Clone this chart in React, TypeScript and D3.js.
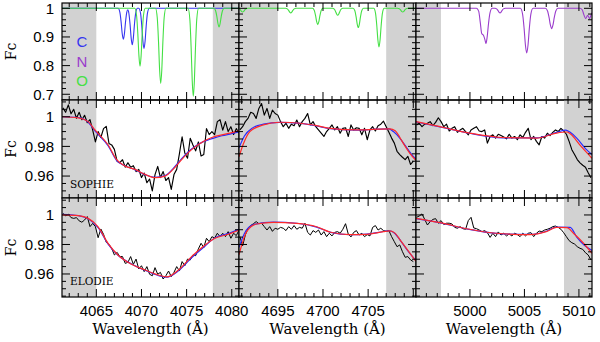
import * as d3 from 'd3'

type Pt = [number, number]

// panel frames (columns = wavelength windows, rows = synthetic / SOPHIE / ELODIE)
const colPx: [number, number][] = [[62, 239], [239, 416], [416, 592]]
const rowPx: [number, number][] = [[3, 100], [100, 198], [198, 297]]

const wlDomains: [number, number][] = [[4061.2, 4080.8], [4690.7, 4710.3], [4995.05, 5011.2]]
const fcDomains: [number, number][] = [[0.68, 1.0185], [0.9452, 1.0113], [0.9444, 1.0115]]

const wlMajor = [[4065, 4070, 4075, 4080], [4695, 4700, 4705, 4710], [5000, 5005, 5010]]
const wlLabels = [[4065, 4070, 4075, 4080], [4695, 4700, 4705], [5000, 5005, 5010]]
const fcMajor = [[0.7, 0.8, 0.9, 1], [0.96, 0.98, 1], [0.96, 0.98, 1]]
const fcLabels = [['0.7', '0.8', '0.9', '1'], ['0.96', '0.98', '1'], ['0.96', '0.98', '1']]
const fcMinorStep = [0.02, 0.005, 0.005]

// shaded (excluded) wavelength ranges
const grayBands: Pt[][] = [
  [[4061.2, 4065], [4077.9, 4080.8]],
  [[4690.7, 4695], [4707, 4710.3]],
  [[4995.05, 4997.34], [5008.63, 5011.2]],
]

// synthetic line spectra, top row
const carbonLine: Pt[] = [
  [4061.2,1],[4067.41,1],[4067.61,0.986],[4067.75,0.951],[4067.87,0.911],[4067.99,0.892],[4068.11,0.911],[4068.23,0.951],[4068.37,0.986],
  [4068.48,0.995],[4068.6,0.9835],[4068.74,0.943],[4068.86,0.896],[4068.98,0.873],[4069.1,0.896],[4069.22,0.943],[4069.36,0.9835],[4069.56,1],
  [4069.7,1],[4069.9,0.982],[4070.04,0.937],[4070.16,0.885],[4070.28,0.86],[4070.4,0.885],[4070.52,0.937],[4070.66,0.982],[4070.86,1],[4080.8,1],
]
const oxygenLeft: Pt[] = [
  [4061.2,1],[4069.26,1],[4069.46,0.974],[4069.6,0.909],[4069.72,0.834],[4069.84,0.798],[4069.96,0.834],[4070.08,0.909],[4070.22,0.974],[4070.42,1],
  [4071.55,1],[4071.75,0.966],[4071.89,0.882],[4072.01,0.785],[4072.13,0.738],[4072.25,0.785],[4072.37,0.882],[4072.51,0.966],[4072.71,1],
  [4075.16,1],[4075.36,0.96],[4075.5,0.862],[4075.62,0.748],[4075.74,0.693],[4075.86,0.748],[4075.98,0.862],[4076.12,0.96],[4076.32,1],
  [4078.01,1],[4078.21,0.9915],[4078.35,0.971],[4078.47,0.947],[4078.59,0.935],[4078.71,0.947],[4078.83,0.971],[4078.97,0.9915],[4079.17,1],[4080.8,1],
]
const oxygenMid: Pt[] = [
  [4690.52,1],[4690.72,0.9983],[4690.86,0.9942],[4690.98,0.9893],[4691.1,0.987],[4691.22,0.9893],[4691.34,0.9942],[4691.48,0.9983],[4691.68,1],
  [4695.85,1],[4696.05,0.9979],[4696.19,0.9928],[4696.31,0.9869],[4696.43,0.984],[4696.55,0.9869],[4696.67,0.9928],[4696.81,0.9979],[4697.01,1],
  [4698.84,1],[4699.04,0.9926],[4699.18,0.9743],[4699.3,0.9533],[4699.42,0.943],[4699.54,0.9533],[4699.66,0.9743],[4699.8,0.9926],[4700.0,1],
  [4701.05,1],[4701.25,0.9969],[4701.39,0.9892],[4701.51,0.9803],[4701.63,0.976],[4701.75,0.9803],[4701.87,0.9892],[4702.01,0.9969],[4702.21,1],
  [4703.33,1],[4703.53,0.9913],[4703.67,0.9698],[4703.79,0.9451],[4703.91,0.933],[4704.03,0.9451],[4704.15,0.9698],[4704.29,0.9913],[4704.49,1],
  [4705.62,1],[4705.82,0.9824],[4705.96,0.9392],[4706.08,0.8893],[4706.2,0.865],[4706.32,0.8893],[4706.44,0.9392],[4706.58,0.9824],[4706.78,1],
  [4708.25,1],[4708.45,0.9983],[4708.59,0.9942],[4708.71,0.9893],[4708.83,0.987],[4708.95,0.9893],[4709.07,0.9942],[4709.21,0.9983],[4709.41,1],[4710.3,1],
]
const nitrogenRight: Pt[] = [
  [4995.05,1],[5000.6,1],[5000.8,0.99],[5000.95,0.95],[5001.08,0.912],[5001.25,0.905],[5001.38,0.89],[5001.47,0.877],[5001.58,0.9],[5001.7,0.945],[5001.84,0.984],[5002.04,1],
  [5002.3,1],[5002.45,0.998],[5002.56,0.993],[5002.66,0.987],[5002.76,0.984],[5002.86,0.987],[5002.96,0.993],[5003.07,0.998],[5003.25,1],
  [5004.63,1],[5004.83,0.98],[5004.97,0.93],[5005.09,0.872],[5005.21,0.844],[5005.33,0.872],[5005.45,0.93],[5005.59,0.98],[5005.79,1],
  [5006.92,1],[5007.12,0.9908],[5007.26,0.968],[5007.38,0.942],[5007.5,0.929],[5007.62,0.942],[5007.74,0.968],[5007.88,0.9908],[5008.08,1],
  [5010.1,1],[5010.3,0.995],[5010.45,0.978],[5010.62,0.964],[5010.8,0.976],[5010.98,0.964],[5011.1,0.975],[5011.2,0.985],
]

// observed spectra: regular wavelength grid per window
const gridStart = [4061.3, 4690.8, 4995.1]
const gridStep = [0.3, 0.3, 0.25]

const sophieFlux = [
  [1.006,1.003,1.008,1.002,1.005,0.999,1.003,0.998,1.001,0.996,0.998,0.991,0.983,0.990,0.986,0.992,0.9935,0.982,0.981,0.978,0.970,0.969,0.971,0.966,0.969,0.966,0.967,0.963,0.9645,0.959,0.962,0.9555,0.958,0.950,0.961,0.9665,0.959,0.963,0.957,0.959,0.951,0.961,0.9645,0.975,0.9865,0.9755,0.972,0.9855,0.981,0.977,0.983,0.9735,0.9745,0.992,0.988,0.990,0.988,0.9967,0.998,0.991,0.9967,0.990,0.9933,0.988,0.992,0.989],
  [0.9911,0.9933,0.9967,0.9989,1.003,1.0022,0.9989,1.0056,1.0089,1.0011,1.0056,0.9989,1.0045,1.0022,1.0011,0.9967,0.9933,0.9956,0.9922,0.995,0.994,0.9978,0.9933,0.9967,0.9989,1.0022,0.9945,0.9967,0.9933,0.9911,0.9889,0.9867,0.99,0.9922,0.9945,0.9911,0.9933,0.9889,0.9922,0.9926,0.9867,0.9945,0.9911,0.9926,0.9922,0.9878,0.9922,0.9845,0.9911,0.9933,0.9904,0.994,0.995,0.997,0.9933,0.9895,0.9856,0.9822,0.9767,0.9745,0.9727,0.9711,0.9733,0.9678,0.970],
  [0.9945,0.9956,0.9933,0.995,0.9956,0.9967,0.994,0.9962,0.9993,0.9967,0.9933,0.995,0.9904,0.9922,0.9933,0.9895,0.9911,0.9922,0.99,0.9878,0.9911,0.9922,0.9933,0.9904,0.99,0.9911,0.9822,0.9867,0.9878,0.9856,0.9882,0.9873,0.9864,0.9851,0.9882,0.9856,0.9867,0.9845,0.9878,0.986,0.9895,0.9922,0.9845,0.9867,0.9834,0.9811,0.9867,0.9856,0.9889,0.9873,0.9895,0.9911,0.99,0.9922,0.9904,0.9882,0.9834,0.9778,0.9745,0.9711,0.9689,0.9673,0.966,0.9622,0.9589],
]
const elodieFlux = [
  [1.0011,0.9995,1.0005,0.9982,0.9977,0.9982,0.996,0.9951,0.9966,0.9989,0.9921,0.9943,0.9921,0.9846,0.9905,0.9869,0.9815,0.9801,0.9774,0.9729,0.9747,0.9718,0.9718,0.9672,0.9679,0.9718,0.9665,0.9701,0.9634,0.9656,0.9616,0.965,0.9598,0.9588,0.9643,0.9598,0.9611,0.9566,0.9588,0.962,0.9582,0.9611,0.965,0.962,0.9684,0.9656,0.9701,0.9695,0.9729,0.9724,0.977,0.9808,0.9779,0.9842,0.9819,0.9853,0.9842,0.9876,0.9853,0.9876,0.9853,0.9887,0.9842,0.9876,0.986,0.9898],
  [0.9853,0.979,0.9864,0.991,0.9928,0.9941,0.9955,0.9941,0.9944,0.9921,0.9898,0.9921,0.9889,0.991,0.9903,0.9916,0.991,0.9894,0.9921,0.9903,0.9928,0.9903,0.9916,0.991,0.9944,0.9882,0.9864,0.9894,0.9882,0.9898,0.9864,0.9887,0.9853,0.9876,0.9858,0.9882,0.9887,0.9876,0.9903,0.9941,0.987,0.9851,0.9882,0.9894,0.9864,0.9876,0.9853,0.9867,0.9858,0.9916,0.9928,0.9898,0.991,0.9894,0.9889,0.9894,0.9853,0.9819,0.9785,0.9797,0.9751,0.9713,0.9718,0.9695,0.9684],
  [0.9984,0.9993,1.0007,0.997,0.9932,0.9955,0.997,0.9975,0.9944,0.9962,0.9935,0.9944,0.9944,0.9939,0.9916,0.991,0.9921,0.9907,0.9903,0.9962,0.9984,0.9912,0.9907,0.9898,0.9887,0.9894,0.988,0.9848,0.9876,0.9853,0.9885,0.9864,0.9876,0.9858,0.9871,0.9858,0.9876,0.9867,0.9853,0.9876,0.9858,0.9876,0.988,0.9853,0.9876,0.9891,0.9887,0.9898,0.9903,0.991,0.9921,0.9925,0.9916,0.9903,0.988,0.9853,0.9826,0.9812,0.9803,0.9785,0.9774,0.9767,0.9744,0.9729,0.9695],
]

// fitted models (red and blue)
const sophieRed: Pt[][] = [
  [[4061.2,1.0],[4063.0,0.9993],[4064.1,0.9967],[4064.85,0.9911],[4066.3,0.9811],[4067.25,0.9711],[4068.2,0.9667],[4069.3,0.9645],[4070.4,0.9611],[4071.5,0.9589],[4072.6,0.96],[4073.5,0.9645],[4074.45,0.9711],[4075.55,0.9778],[4076.85,0.9833],[4077.8,0.986],[4078.9,0.9878],[4080.0,0.9893],[4080.8,0.9905]],
  [[4690.7,0.973],[4691.2,0.982],[4691.9,0.99],[4693.4,0.9945],[4695.2,0.9963],[4697.5,0.9956],[4699.3,0.994],[4700.8,0.9922],[4703.7,0.9911],[4706.0,0.9916],[4707.4,0.9918],[4708.0,0.9905],[4708.5,0.9862],[4709.0,0.981],[4709.6,0.9755],[4710.3,0.9705]],
  [[4995.05,0.9967],[4997.25,0.9933],[4999.95,0.989],[5003.0,0.986],[5006.1,0.9856],[5007.95,0.989],[5008.9,0.9897],[5009.2,0.9885],[5010.2,0.98],[5011.2,0.972]],
]
const sophieBlue: Pt[][] = [
  [[4061.2,1.0],[4063.0,0.9995],[4064.1,0.9963],[4064.85,0.9905],[4066.3,0.9805],[4067.25,0.9705],[4068.2,0.9668],[4069.3,0.9642],[4070.4,0.961],[4071.5,0.9592],[4072.6,0.9603],[4073.5,0.965],[4074.45,0.9718],[4075.55,0.9783],[4076.85,0.9832],[4077.6,0.9848],[4078.0,0.9856],[4078.9,0.9872],[4080.0,0.9886],[4080.8,0.9898]],
  [[4690.7,0.979],[4691.3,0.987],[4692.2,0.9925],[4693.4,0.995],[4695.2,0.9962],[4697.5,0.9955],[4699.3,0.9938],[4700.8,0.992],[4703.7,0.991],[4706.0,0.9916],[4707.3,0.9918],[4707.8,0.99],[4708.5,0.9856],[4709.3,0.9789],[4710.0,0.9733],[4710.3,0.9715]],
  [[4995.05,0.9965],[4997.25,0.9932],[4999.95,0.9889],[5003.0,0.9858],[5006.1,0.9857],[5007.95,0.9895],[5008.8,0.991],[5009.2,0.9895],[5009.8,0.9856],[5010.6,0.9785],[5011.2,0.9745]],
]
const elodieRed: Pt[][] = [
  [[4061.2,1.0],[4063.0,0.9995],[4064.1,0.9977],[4065.2,0.992],[4066.3,0.9808],[4067.4,0.9729],[4068.9,0.9666],[4070.4,0.9627],[4071.85,0.9593],[4072.8,0.958],[4074.1,0.9627],[4075.55,0.9718],[4077.05,0.9797],[4078.15,0.9842],[4079.6,0.9869],[4080.8,0.9898]],
  [[4690.7,0.973],[4691.55,0.9887],[4692.65,0.9939],[4694.5,0.995],[4697.1,0.9943],[4699.3,0.992],[4700.85,0.9883],[4703.0,0.9867],[4704.85,0.9869],[4706.7,0.9887],[4707.4,0.9892],[4708.0,0.9875],[4708.55,0.983],[4709.4,0.976],[4710.3,0.9685]],
  [[4995.05,0.9977],[4997.25,0.9948],[4999.95,0.9903],[5002.4,0.9876],[5005.5,0.9867],[5007.0,0.9887],[5007.95,0.9916],[5008.9,0.9914],[5009.5,0.9876],[5010.4,0.981],[5011.2,0.974]],
]
const elodieBlue: Pt[][] = [
  [[4061.2,1.0005],[4063.0,0.9995],[4064.1,0.9975],[4065.2,0.9915],[4066.3,0.9803],[4067.4,0.9727],[4068.9,0.9668],[4070.4,0.9625],[4071.85,0.959],[4072.8,0.9578],[4074.1,0.9622],[4075.55,0.971],[4077.05,0.979],[4078.15,0.9845],[4079.6,0.9874],[4080.8,0.9902]],
  [[4690.7,0.978],[4691.3,0.9875],[4692.3,0.9935],[4694.5,0.9952],[4697.1,0.9944],[4699.3,0.9918],[4700.85,0.9882],[4703.0,0.9866],[4704.85,0.987],[4706.7,0.9888],[4707.3,0.9893],[4707.9,0.9878],[4708.6,0.9825],[4709.4,0.9757],[4710.3,0.969]],
  [[4995.05,0.9975],[4997.25,0.9947],[4999.95,0.9902],[5002.4,0.9875],[5005.5,0.9868],[5007.0,0.989],[5007.95,0.9918],[5009.2,0.9916],[5009.8,0.985],[5010.5,0.9795],[5011.2,0.976]],
]

const elements = ['C', 'N', 'O']
const elementColors = ['#3535f0', '#9a3ccc', '#44e044']
const instruments = ['SOPHIE', 'ELODIE']

const RED = '#ff2a2a'
const BLUE = '#2a2aff'
const tickFont = '"Liberation Sans", Arial, sans-serif'
const serifFont = '"DejaVu Serif", serif'

const onGrid = (c: number, flux: number[]): Pt[] => flux.map((f, i) => [gridStart[c] + i * gridStep[c], f])

function Panel({ c, r }: { c: number; r: number }) {
  const x = d3.scaleLinear().domain(wlDomains[c]).range(colPx[c])
  const y = d3.scaleLinear().domain(fcDomains[r]).range([rowPx[r][1], rowPx[r][0]])
  const [x0, x1] = colPx[c]
  const [y0, y1] = rowPx[r]
  const smooth = d3.line<Pt>().x((d) => x(d[0])).y((d) => y(d[1])).curve(d3.curveMonotoneX)
  const raw = d3.line<Pt>().x((d) => x(d[0])).y((d) => y(d[1]))
  const clipId = `clip-${c}-${r}`

  const [w0, w1] = wlDomains[c]
  const xMinor = d3.range(Math.ceil(w0), Math.floor(w1) + 1).filter((v) => !wlMajor[c].includes(v))
  const [f0, f1] = fcDomains[r]
  const st = fcMinorStep[r]
  const yMinor = d3
    .range(Math.ceil(f0 / st - 1e-6), Math.floor(f1 / st + 1e-6) + 1)
    .map((k) => +(k * st).toFixed(4))
    .filter((v) => !fcMajor[r].some((m) => Math.abs(m - v) < 1e-6))

  const curves: { d: string | null; color: string; w: number }[] = []
  if (r === 0) {
    if (c === 0) {
      curves.push({ d: smooth(carbonLine), color: elementColors[0], w: 1.1 })
      curves.push({ d: smooth(oxygenLeft), color: elementColors[2], w: 1.1 })
    } else if (c === 1) {
      curves.push({ d: smooth(oxygenMid), color: elementColors[2], w: 1.1 })
    } else {
      curves.push({ d: smooth(nitrogenRight), color: elementColors[1], w: 1.1 })
    }
  } else {
    const flux = r === 1 ? sophieFlux[c] : elodieFlux[c]
    const red = r === 1 ? sophieRed[c] : elodieRed[c]
    const blue = r === 1 ? sophieBlue[c] : elodieBlue[c]
    curves.push({ d: raw(onGrid(c, flux)), color: '#000', w: r === 1 ? 1.15 : 1 })
    curves.push({ d: smooth(blue), color: BLUE, w: 1.2 })
    curves.push({ d: smooth(red), color: RED, w: 1.2 })
  }

  return (
    <g>
      <defs>
        <clipPath id={clipId}>
          <rect x={x0} y={y0} width={x1 - x0} height={y1 - y0} />
        </clipPath>
      </defs>
      {grayBands[c].map(([a, b], i) => (
        <rect key={i} x={x(a)} y={y0} width={x(b) - x(a)} height={y1 - y0} fill="#d2d2d2" />
      ))}
      <g clipPath={`url(#${clipId})`}>
        {curves.map((cv, i) => (
          <path key={i} d={cv.d ?? ''} fill="none" stroke={cv.color} strokeWidth={cv.w} strokeLinejoin="round" />
        ))}
      </g>
      <g stroke="#000" strokeWidth={1}>
        {wlMajor[c].map((v) => (
          <g key={`xm${v}`}>
            <line x1={x(v)} x2={x(v)} y1={y1} y2={y1 - 8} />
            <line x1={x(v)} x2={x(v)} y1={y0} y2={y0 + 8} />
          </g>
        ))}
        {xMinor.map((v) => (
          <g key={`xn${v}`}>
            <line x1={x(v)} x2={x(v)} y1={y1} y2={y1 - 4} />
            <line x1={x(v)} x2={x(v)} y1={y0} y2={y0 + 4} />
          </g>
        ))}
        {fcMajor[r].map((v) => (
          <g key={`ym${v}`}>
            <line x1={x0} x2={x0 + 8} y1={y(v)} y2={y(v)} />
            <line x1={x1} x2={x1 - 8} y1={y(v)} y2={y(v)} />
          </g>
        ))}
        {yMinor.map((v) => (
          <g key={`yn${v}`}>
            <line x1={x0} x2={x0 + 4} y1={y(v)} y2={y(v)} />
            <line x1={x1} x2={x1 - 4} y1={y(v)} y2={y(v)} />
          </g>
        ))}
      </g>
      <rect x={x0} y={y0} width={x1 - x0} height={y1 - y0} fill="none" stroke="#000" strokeWidth={1.2} />
      {c === 0 &&
        fcMajor[r].map((v, i) => (
          <text key={`yl${v}`} x={x0 - 8} y={y(v)} dy="0.36em" textAnchor="end" fontFamily={tickFont} fontSize={15}>
            {fcLabels[r][i]}
          </text>
        ))}
      {c === 0 && (
        <text
          transform={`translate(16,${(y0 + y1) / 2}) rotate(-90)`}
          textAnchor="middle"
          fontFamily={serifFont}
          fontSize={14}
        >
          Fc
        </text>
      )}
      {r === 2 &&
        wlLabels[c].map((v) => (
          <text key={`xl${v}`} x={x(v)} y={316} textAnchor="middle" fontFamily={tickFont} fontSize={15}>
            {v}
          </text>
        ))}
      {r === 2 && (
        <text x={(x0 + x1) / 2} y={334} textAnchor="middle" fontFamily={serifFont} fontSize={15}>
          Wavelength (Å)
        </text>
      )}
      {c === 0 && r > 0 && (
        <text x={70} y={r === 1 ? 188 : 285} fontFamily={serifFont} fontSize={10.5}>
          {instruments[r - 1]}
        </text>
      )}
      {c === 0 && r === 0 &&
        elements.map((e, i) => (
          <text key={e} x={82} y={47 + i * 19.5} textAnchor="middle" fontFamily={tickFont} fontSize={15} fill={elementColors[i]}>
            {e}
          </text>
        ))}
    </g>
  )
}

export default function App() {
  const cells: [number, number][] = []
  for (let r = 0; r < 3; r++) for (let c = 0; c < 3; c++) cells.push([c, r])
  return (
    <svg
      width={600}
      height={342}
      viewBox="0 0 600 342"
      style={{ position: 'absolute', left: 0, top: 0, background: '#fff' }}
    >
      <rect x={0} y={0} width={600} height={342} fill="#fff" />
      {cells.map(([c, r]) => (
        <Panel key={`${c}-${r}`} c={c} r={r} />
      ))}
    </svg>
  )
}
